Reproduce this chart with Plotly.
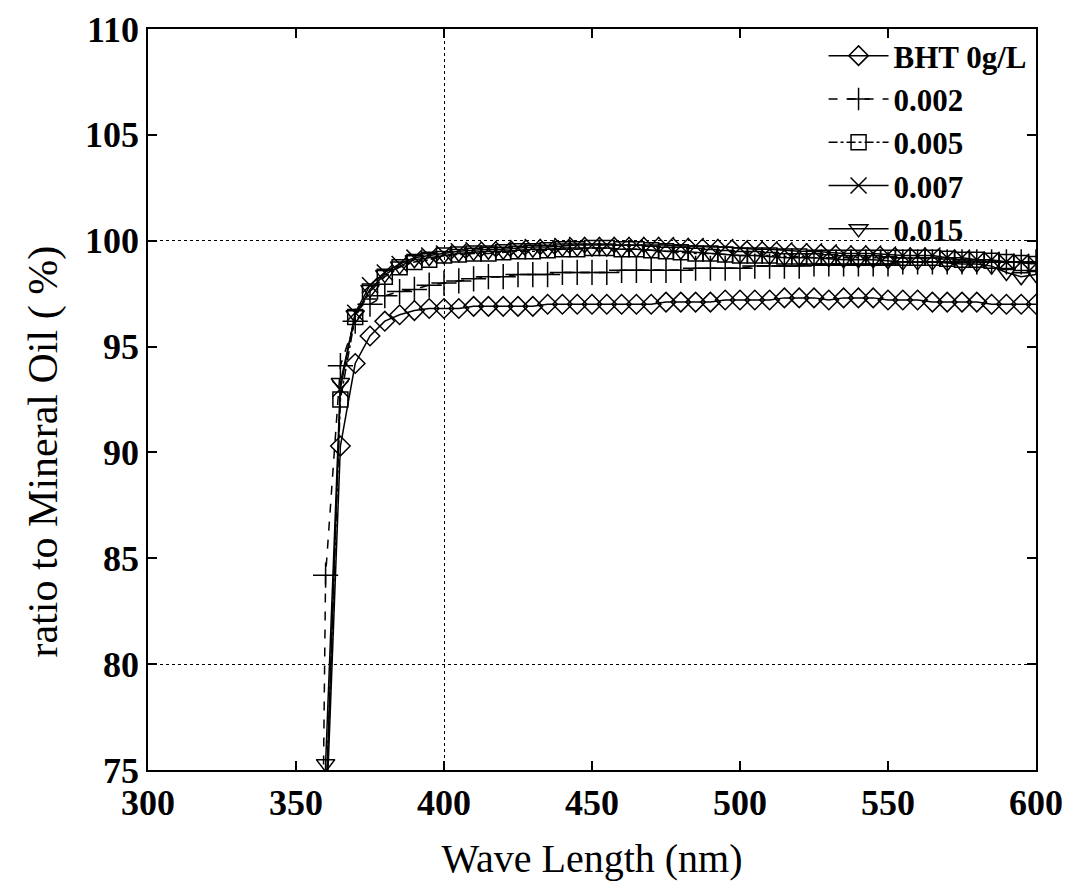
import plotly.graph_objects as go

wavelength = list(range(355, 605, 5))

bht_0 = [40, 72, 90.3, 94.2, 95.5, 96.2, 96.5, 96.7, 96.8, 96.8,
         96.8, 96.9, 96.9, 96.9, 96.9, 96.9, 97.0, 97.0, 97.0, 97.0,
         97.0, 97.0, 97.0, 97.0, 97.1, 97.1, 97.1, 97.1, 97.2, 97.2,
         97.2, 97.2, 97.3, 97.3, 97.3, 97.2, 97.3, 97.3, 97.3, 97.2,
         97.2, 97.2, 97.1, 97.1, 97.1, 97.1, 97.0, 97.0, 97.0, 97.0]

bht_002 = [20, 84.2, 94.1, 96.2, 97.0, 97.4, 97.6, 97.7, 97.9, 98.0,
           98.1, 98.2, 98.3, 98.3, 98.4, 98.4, 98.4, 98.5, 98.5, 98.5,
           98.5, 98.6, 98.6, 98.6, 98.6, 98.6, 98.7, 98.7, 98.7, 98.7,
           98.8, 98.8, 98.8, 98.8, 98.9, 98.9, 98.9, 98.9, 98.9, 98.9,
           99.0, 99.0, 99.0, 99.0, 99.0, 99.0, 99.0, 99.0, 99.0, 99.0]

bht_005 = [40, 73, 92.5, 96.4, 97.6, 98.3, 98.75, 99.0, 99.1, 99.3,
           99.35, 99.4, 99.4, 99.45, 99.5, 99.5, 99.55, 99.6, 99.6, 99.65,
           99.65, 99.6, 99.6, 99.55, 99.5, 99.45, 99.4, 99.4, 99.35, 99.3,
           99.3, 99.3, 99.25, 99.25, 99.2, 99.2, 99.2, 99.2, 99.2, 99.2,
           99.2, 99.2, 99.2, 99.15, 99.1, 99.1, 99.05, 99.0, 98.95, 98.9]

bht_007 = [40, 73, 93.0, 96.6, 97.9, 98.5, 98.9, 99.2, 99.3, 99.4,
           99.5, 99.55, 99.6, 99.6, 99.65, 99.7, 99.7, 99.75, 99.8, 99.8,
           99.8, 99.8, 99.8, 99.8, 99.8, 99.75, 99.75, 99.7, 99.7, 99.65,
           99.6, 99.6, 99.55, 99.5, 99.5, 99.45, 99.4, 99.4, 99.4, 99.35,
           99.3, 99.3, 99.3, 99.2, 99.2, 99.1, 99.1, 99.0, 99.0, 98.9]

bht_015 = [30, 75.3, 93.3, 96.5, 97.7, 98.4, 98.8, 99.1, 99.2, 99.3,
           99.4, 99.45, 99.5, 99.5, 99.55, 99.6, 99.6, 99.65, 99.65, 99.65,
           99.65, 99.6, 99.6, 99.55, 99.5, 99.5, 99.45, 99.4, 99.35, 99.3,
           99.3, 99.25, 99.2, 99.2, 99.2, 99.15, 99.1, 99.1, 99.1, 99.05,
           99.0, 99.0, 99.0, 98.95, 98.9, 98.9, 98.8, 98.5, 98.3, 98.4]

series_names = ["BHT 0g/L", "0.002", "0.005", "0.007", "0.015"]
series_values = [bht_0, bht_002, bht_005, bht_007, bht_015]
symbols = ["diamond-open", "cross-thin-open", "square-open", "x-thin-open", "triangle-down-open"]
dashes = ["solid", "dash", "dashdot", "solid", "solid"]
sizes = [15, 18, 15, 16, 16]

x_ticks = [300, 350, 400, 450, 500, 550, 600]
y_ticks = [75, 80, 85, 90, 95, 100, 105, 110]
x_grid = [400]
y_grid = [80, 100]

fig = go.Figure()
for name, vals, sym, dash, sz in zip(series_names, series_values, symbols, dashes, sizes):
    fig.add_trace(go.Scatter(
        x=wavelength, y=vals, name=name, mode="lines+markers",
        line=dict(color="black", width=1.5, dash=dash),
        marker=dict(symbol=sym, size=sz, color="black",
                    line=dict(color="black", width=1.5)),
    ))

# invisible trace on overlay axes so the partial grid is drawn
fig.add_trace(go.Scatter(x=[None], y=[None], xaxis="x2", yaxis="y2",
                         showlegend=False, hoverinfo="skip"))

serif = "Liberation Serif"
fig.update_layout(
    width=1078, height=895,
    paper_bgcolor="white", plot_bgcolor="white",
    margin=dict(l=140, r=50, t=21, b=133, autoexpand=False),
    font=dict(family=serif, color="black"),
    xaxis=dict(
        range=[300, 600], tickvals=x_ticks, ticks="inside", ticklen=9,
        tickwidth=1.5, tickcolor="black", showgrid=False, zeroline=False,
        showline=True, linecolor="black", linewidth=1.5, mirror="ticks",
        tickfont=dict(family=serif, size=36, weight="bold"),
        ticklabeloverflow="allow", automargin=False,
        title=dict(text="Wave Length (nm)", font=dict(family=serif, size=40), standoff=22),
    ),
    yaxis=dict(
        range=[75, 110], tickvals=y_ticks, ticks="inside", ticklen=9,
        tickwidth=1.5, tickcolor="black", showgrid=False, zeroline=False,
        showline=True, linecolor="black", linewidth=1.5, mirror="ticks",
        tickfont=dict(family=serif, size=36, weight="bold"),
        ticklabeloverflow="allow", automargin=False,
    ),
    xaxis2=dict(range=[300, 600], overlaying="x", tickvals=x_grid, showticklabels=False,
                ticks="", showgrid=True, gridcolor="black", griddash="dot", gridwidth=1.2,
                zeroline=False, showline=False),
    yaxis2=dict(range=[75, 110], overlaying="y", tickvals=y_grid, showticklabels=False,
                ticks="", showgrid=True, gridcolor="black", griddash="dot", gridwidth=1.2,
                zeroline=False, showline=False),
    legend=dict(x=0.995, y=1.0, xanchor="right", yanchor="top",
                bgcolor="rgba(0,0,0,0)", borderwidth=0,
                font=dict(family=serif, size=31, weight="bold"),
                itemwidth=60, tracegroupgap=0),
    showlegend=True,
    annotations=[dict(
        text="ratio to Mineral Oil ( %)", textangle=-90,
        xref="paper", yref="paper", x=-0.118, y=0.43,
        xanchor="center", yanchor="middle", showarrow=False,
        font=dict(family=serif, size=42, color="black"),
    )],
)

fig.write_html("out.html")
